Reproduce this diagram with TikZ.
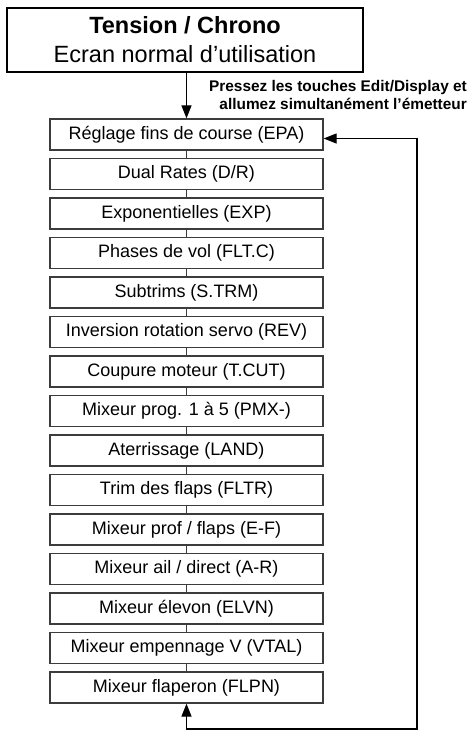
\documentclass[tikz,border=0pt]{standalone}
\usepackage{fontspec}
\setmainfont{Liberation Sans}
\usetikzlibrary{arrows.meta,positioning}
\definecolor{boxgray}{RGB}{60,60,60}

\begin{document}
\begin{tikzpicture}[x=1pt,y=1pt,yscale=-1,xscale=1,
	menubox/.style={draw=boxgray, line width=1.3, minimum width=273, minimum height=31, inner sep=0, font=\fontsize{18}{20}\selectfont},
	link/.style={draw=boxgray, line width=1},
	tri/.style={-{Triangle[length=13,width=10]}, line width=1.2}]
	\useasboundingbox (0,0) rectangle (471,732);

	\node (top) at (185,40) [draw, line width=2.2, minimum width=356, minimum height=64, inner sep=0, align=center, font=\fontsize{23.5}{29}\selectfont]
		{\bfseries Tension / Chrono\\Ecran normal d’utilisation};
	\node (keys) at (467,80) [anchor=north east, inner sep=0, align=right, font=\fontsize{15.4}{18}\selectfont\bfseries]
		{Pressez les touches Edit/Display et\\allumez simultanément l’émetteur};

	\node (epa) at (186.5,134.5) [menubox] {Réglage fins de course (EPA)};
	\node (dr) at (186.5,174) [menubox] {Dual Rates (D/R)};
	\node (exp) at (186.5,213.5) [menubox] {Exponentielles (EXP)};
	\node (fltc) at (186.5,253) [menubox] {Phases de vol (FLT.C)};
	\node (strm) at (186.5,292.5) [menubox] {Subtrims (S.TRM)};
	\node (rev) at (186.5,332) [menubox] {Inversion rotation servo (REV)};
	\node (tcut) at (186.5,371.5) [menubox] {Coupure moteur (T.CUT)};
	\node (pmx) at (186.5,411) [menubox] {Mixeur prog. 1 à 5 (PMX-)};
	\node (land) at (186.5,450.5) [menubox] {Aterrissage (LAND)};
	\node (fltr) at (186.5,490) [menubox] {Trim des flaps (FLTR)};
	\node (ef) at (186.5,529.5) [menubox] {Mixeur prof / flaps (E-F)};
	\node (ar) at (186.5,569) [menubox] {Mixeur ail / direct (A-R)};
	\node (elvn) at (186.5,608.5) [menubox] {Mixeur élevon (ELVN)};
	\node (vtal) at (186.5,648) [menubox] {Mixeur empennage V (VTAL)};
	\node (flpn) at (186.5,687.5) [menubox] {Mixeur flaperon (FLPN)};

	\draw [tri] (top.south -| epa.north) -- (epa.north);
	\foreach \a/\b in {epa/dr,dr/exp,exp/fltc,fltc/strm,strm/rev,rev/tcut,tcut/pmx,pmx/land,land/fltr,fltr/ef,ef/ar,ar/elvn,elvn/vtal,vtal/flpn}
		\draw [link] (\a.south) -- (\b.north);

	\coordinate (turn) at (417,729);
	\draw [{Triangle[length=13,width=10]}-{Triangle[length=13,width=10]}, line width=1.2] (flpn.south) |- (turn) |- ([yshift=4]epa.east);
\end{tikzpicture}
\end{document}
